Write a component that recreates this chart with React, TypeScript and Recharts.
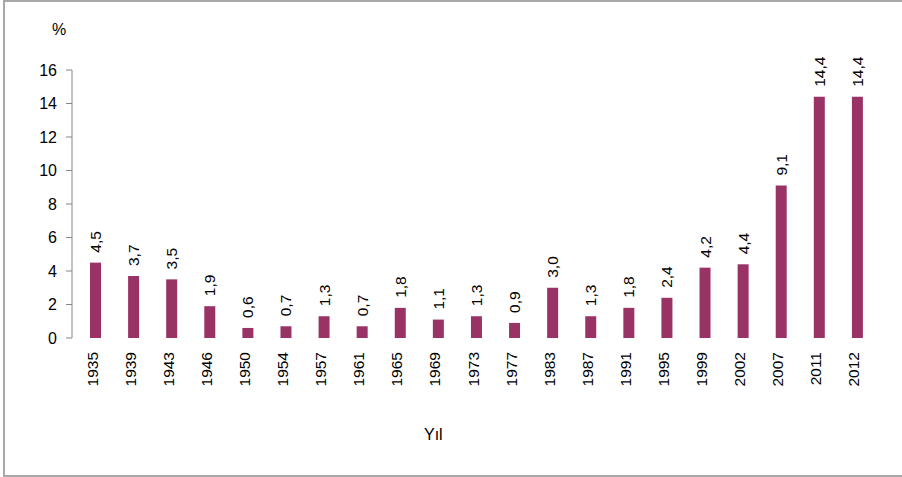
import React from "react";
import { BarChart, Bar, XAxis, YAxis, LabelList, Rectangle } from "recharts";

const years = [
  "1935", "1939", "1943", "1946", "1950", "1954", "1957", "1961", "1965", "1969", "1973",
  "1977", "1983", "1987", "1991", "1995", "1999", "2002", "2007", "2011", "2012",
];
const shares = [4.5, 3.7, 3.5, 1.9, 0.6, 0.7, 1.3, 0.7, 1.8, 1.1, 1.3, 0.9, 3.0, 1.3, 1.8, 2.4, 4.2, 4.4, 9.1, 14.4, 14.4];
const yTicks = [0, 2, 4, 6, 8, 10, 12, 14, 16];
const boundaryTicks = years.map((_, i) => i).concat([years.length]);

const data = years.map((y, i) => ({ year: y, value: shares[i], pos: i + 0.5 }));

const FONT = "Arial, 'Liberation Sans', sans-serif";
const BAR = "#993366";
const AXIS = "#868686";
// Excel draws the columns a few px right of the category centre
const BAR_SHIFT = 4;

function YearTick(props: any) {
  const { x, y, payload } = props;
  const tx = x + 1;
  return (
    <text
      x={tx}
      y={y}
      transform={`rotate(-90 ${tx} ${y})`}
      textAnchor="end"
      dominantBaseline="central"
      fontSize={15.5}
      fill="#000"
      fontFamily={FONT}
    >
      {payload.value}
    </text>
  );
}

function ShiftedBar(props: any) {
  return <Rectangle {...props} x={props.x + BAR_SHIFT} />;
}

function ValueLabel(props: any) {
  const { x, y, width, value } = props;
  const cx = x + width / 2 + BAR_SHIFT;
  const cy = y - 10;
  return (
    <text
      x={cx}
      y={cy}
      transform={`rotate(-90 ${cx} ${cy})`}
      textAnchor="start"
      dominantBaseline="central"
      fontSize={15.5}
      fill="#000"
      fontFamily={FONT}
    >
      {Number(value).toFixed(1).replace(".", ",")}
    </text>
  );
}

export default function App() {
  return (
    <div style={{ position: "absolute", left: 0, top: 0, width: 902, height: 477, background: "#fff", overflow: "hidden", fontFamily: FONT }}>
      <div
        style={{
          position: "absolute",
          left: 3,
          top: 0,
          width: 910,
          height: 473,
          borderLeft: "2px solid #a8a8a8",
          borderTop: "2px solid #a8a8a8",
          borderBottom: "2px solid #a8a8a8",
        }}
      />
      <BarChart
        width={902}
        height={477}
        data={data}
        margin={{ top: 70, right: 30, bottom: 0, left: 0 }}
        barCategoryGap={0}
        style={{ position: "absolute", left: 0, top: 0 }}
      >
        <YAxis
          domain={[0, 16]}
          ticks={yTicks}
          width={72}
          tickSize={6}
          tickMargin={9}
          axisLine={{ stroke: AXIS }}
          tickLine={{ stroke: AXIS }}
          tick={{ fill: "#000", fontSize: 16, fontFamily: FONT }}
          interval={0}
        />
        <XAxis
          dataKey="year"
          height={139}
          axisLine={false}
          tickLine={false}
          interval={0}
          tick={<YearTick />}
          tickMargin={8}
        />
        <XAxis
          xAxisId="edges"
          type="number"
          dataKey="pos"
          domain={[0, years.length]}
          ticks={boundaryTicks}
          interval={0}
          height={0}
          tick={false}
          tickSize={5}
          axisLine={{ stroke: AXIS }}
          tickLine={{ stroke: AXIS }}
        />
        <Bar dataKey="value" fill={BAR} barSize={11} shape={<ShiftedBar />} isAnimationActive={false}>
          <LabelList dataKey="value" content={<ValueLabel />} />
        </Bar>
      </BarChart>
      <div style={{ position: "absolute", left: 52, top: 21, fontSize: 16, color: "#000" }}>%</div>
      <div style={{ position: "absolute", left: 424, top: 426, fontSize: 16, color: "#000" }}>Yıl</div>
    </div>
  );
}
